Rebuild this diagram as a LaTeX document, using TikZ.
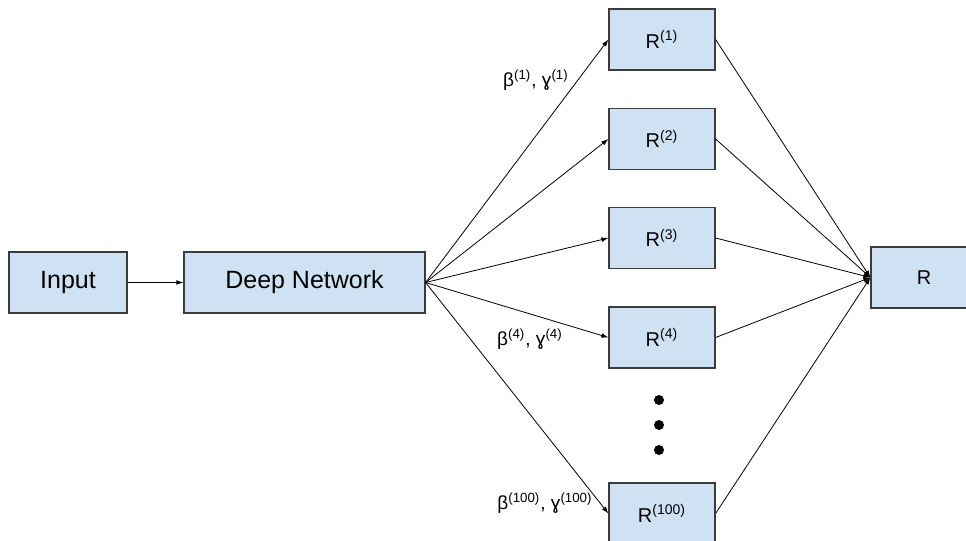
\documentclass[tikz,border=0pt]{standalone}
\usepackage{fontspec}
\setmainfont{Liberation Sans}
\definecolor{boxblue}{RGB}{207,226,243}
\definecolor{boxedge}{RGB}{60,60,60}
\usetikzlibrary{arrows.meta,positioning}

\begin{document}
\begin{tikzpicture}[x=0.5pt, y=-0.5pt,
  block/.style={rectangle, draw=boxedge, fill=boxblue, line width=0.6pt,
    minimum height=30.5pt, inner sep=0pt},
  bigblock/.style={block, font=\fontsize{12.5}{14}\selectfont},
  rblock/.style={block, minimum width=53pt, font=\fontsize{10}{12}\selectfont},
  arrow/.style={-{Latex[length=3.5pt,width=2.4pt]}, line width=0.4pt},
  param/.style={font=\fontsize{9.5}{11}\selectfont},
  dot/.style={circle, fill=black, inner sep=0pt, minimum size=5pt},
]
\useasboundingbox (0,0) rectangle (966,541);

% Left part
\node[bigblock, minimum width=59pt] (input) at (68,282.5) {Input};
\node[bigblock, minimum width=120.5pt] (deep) at (304.5,282.5) {Deep Network};

% Heads
\node[rblock] (r1) at (662,39.5) {R\textsuperscript{(1)}};
\node[rblock] (r2) at (662,139) {R\textsuperscript{(2)}};
\node[rblock] (r3) at (662,238) {R\textsuperscript{(3)}};
\node[rblock] (r4) at (662,337.5) {R\textsuperscript{(4)}};
\node[rblock] (r100) at (662,513.5) {R\textsuperscript{(100)}};

\node[dot] (d1) at (659,400) {};
\node[dot] (d2) at (659,425) {};
\node[dot] (d3) at (659,450) {};

% Output
\node[rblock] (out) at (924,277.5) {R};

\draw[arrow] (input) -- (deep);
\draw[arrow] (deep.east) -- (r1.west);
\draw[arrow] (deep.east) -- (r2.west);
\draw[arrow] (deep.east) -- (r3.west);
\draw[arrow] (deep.east) -- (r4.west);
\draw[arrow] (deep.east) -- (r100.west);

\draw[arrow] (r1.east) -- (out.west);
\draw[arrow] (r2.east) -- (out.west);
\draw[arrow] (r3.east) -- (out.west);
\draw[arrow] (r4.east) -- (out.west);
\draw[arrow] (r100.east) -- (out.west);

% Labels on the branches
\node[param] (p1) at (536,80) {β\textsuperscript{(1)}, ɣ\textsuperscript{(1)}};
\node[param] (p4) at (530,339) {β\textsuperscript{(4)}, ɣ\textsuperscript{(4)}};
\node[param] (p100) at (545,503) {β\textsuperscript{(100)}, ɣ\textsuperscript{(100)}};

\end{tikzpicture}
\end{document}
